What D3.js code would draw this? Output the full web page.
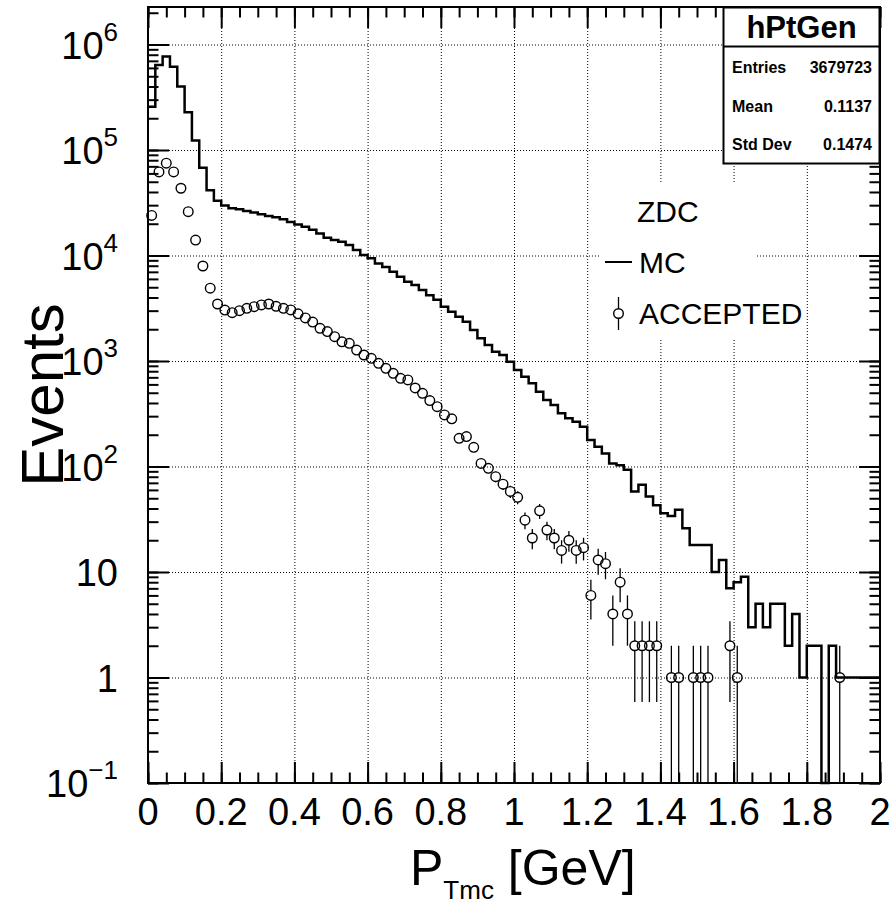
<!DOCTYPE html>
<html>
<head>
<meta charset="utf-8">
<script src="https://cdn.jsdelivr.net/npm/d3@7"></script>
<style>
  body { margin: 0; background: #fff; }
  svg { display: block; }
  text { font-family: "Liberation Sans", Arial, Helvetica, sans-serif; fill: #000; }
</style>
</head>
<body>
<svg id="chart"></svg>
<script>
// histogram: 100 bins of 0.02 GeV from 0 to 2
var binLow = d3.range(100).map(function(i) { return +(i * 0.02).toFixed(2); });

// MC (generated) counts per bin
var mcCounts = [
  257000, 640000, 770000, 615000, 400000, 228000, 123000, 68000, 41500, 33000,
  29700, 28000, 27400, 26400, 25500, 24600, 23700, 23000, 22000, 20800,
  19700, 18700, 17500, 16200, 14700, 14000, 13500, 12600, 11300, 10100,
  9400, 8400, 7800, 7000, 6300, 5650, 5250, 4700, 4200, 3800,
  3270, 2930, 2630, 2360, 1970, 1640, 1420, 1225, 1140, 985,
  822, 710, 615, 512, 427, 383, 319, 286, 266, 238,
  178, 154, 133, 107, 103, 93, 58, 67, 52, 43,
  36, 34, 39, 26, 18, 18, 18, 10, 13, 7,
  8, 9, 3, 5, 3, 5, 5, 2, 4, 1,
  2, 2, 0, 2, 1, 1, 1, 1, 1, 1
];

// accepted counts per bin (0 = empty)
var accCounts = [
  24000, 62000, 75000, 62000, 43400, 26000, 14000, 7950, 4900, 3470,
  3040, 2870, 3000, 3160, 3270, 3400, 3470, 3300, 3160, 3050,
  2800, 2560, 2340, 2040, 1900, 1700, 1520, 1470, 1270, 1140,
  1060, 951, 853, 764, 685, 661, 555, 494, 422, 369,
  308, 283, 185, 192, 152, 107, 96, 80, 68, 58,
  51, 31, 21, 38, 25, 21, 16, 20, 16, 17,
  6, 13, 12, 4, 8, 4, 2, 2, 2, 2,
  0, 1, 1, 0, 1, 1, 1, 0, 0, 2,
  1, 0, 0, 0, 0, 0, 0, 0, 0, 0,
  0, 0, 0, 0, 1, 0, 0, 0, 0, 0
];

var xMajor = [0, 0.2, 0.4, 0.6, 0.8, 1, 1.2, 1.4, 1.6, 1.8, 2];
var xLabels = ["0", "0.2", "0.4", "0.6", "0.8", "1", "1.2", "1.4", "1.6", "1.8", "2"];
var yDecades = [0.1, 1, 10, 100, 1000, 10000, 100000, 1000000];
var yExp = ["\u22121", null, null, "2", "3", "4", "5", "6"];
var yPlain = [null, "1", "10", null, null, null, null, null];

var statsNames = ["Entries", "Mean", "Std Dev"];
var statsValues = ["3679723", "0.1137", "0.1474"];

var W = 894, H = 913;
var margin = { top: 7, right: 14, bottom: 130, left: 148 };
var width = W - margin.left - margin.right,
    height = H - margin.top - margin.bottom;
var yMin = 0.1, yMax = Math.pow(10, -1 + height / 105.5);

var svg = d3.select("#chart").attr("width", W).attr("height", H);
var g = svg.append("g").attr("transform", "translate(" + margin.left + "," + margin.top + ")");

var x = d3.scaleLinear().domain([0, 2]).range([0, width]);
var y = d3.scaleLog().domain([yMin, yMax]).range([height, 0]);
function yc(v) { return y(Math.max(v, yMin)); }

// grid
var grid = g.append("g").attr("class", "grid")
    .attr("stroke", "#000").attr("stroke-width", 1).attr("stroke-dasharray", "1,2");
grid.selectAll(".gx").data(xMajor.slice(1, -1)).enter().append("line")
    .attr("x1", function(d) { return x(d) + 0.5; }).attr("x2", function(d) { return x(d) + 0.5; })
    .attr("y1", 0).attr("y2", height);
grid.selectAll(".gy").data(yDecades.slice(1)).enter().append("line")
    .attr("x1", 0).attr("x2", width)
    .attr("y1", function(d) { return y(d) + 0.5; }).attr("y2", function(d) { return y(d) + 0.5; });

// legend box (white, covers grid)
var leg = svg.append("g");
leg.append("rect").attr("x", 600).attr("y", 183).attr("width", 155).attr("height", 155).attr("fill", "#fff");

// MC histogram as steps
var stepData = binLow.map(function(b, i) { return [b, mcCounts[i]]; });
stepData.push([2, mcCounts[mcCounts.length - 1]]);
var step = d3.line()
    .x(function(d) { return x(d[0]); })
    .y(function(d) { return yc(d[1]); })
    .curve(d3.curveStepAfter);
g.append("path").datum(stepData)
    .attr("d", step)
    .attr("fill", "none").attr("stroke", "#000").attr("stroke-width", 2.5);

// accepted points with error bars
var r = 4.8;
var pts = accCounts.map(function(v, i) { return { x: binLow[i] + 0.01, v: v }; })
    .filter(function(d) { return d.v > 0; });
var pg = g.append("g").attr("stroke", "#000");
pts.forEach(function(d) {
    var cx = x(d.x), cy = y(d.v);
    var e = Math.sqrt(d.v);
    var yHi = y(d.v + e);
    var yLo = (d.v - e) > yMin ? y(d.v - e) : height;
    if (yHi < cy - r) pg.append("line").attr("x1", cx).attr("x2", cx).attr("y1", yHi).attr("y2", cy - r).attr("stroke-width", 1.3);
    if (yLo > cy + r) pg.append("line").attr("x1", cx).attr("x2", cx).attr("y1", cy + r).attr("y2", yLo).attr("stroke-width", 1.3);
});
pg.selectAll("circle").data(pts).enter().append("circle")
    .attr("cx", function(d) { return x(d.x); })
    .attr("cy", function(d) { return y(d.v); })
    .attr("r", r).attr("fill", "none").attr("stroke-width", 1.4);

// axes: ticks pointing inward
var xMinor = d3.range(0, 41).map(function(i) { return i * 0.05; });
var yMinor = y.ticks(100).filter(function(d) { return d >= yMin && d <= yMax; });

function styleAxis(sel) {
    sel.select(".domain").remove();
    sel.selectAll("line").attr("stroke", "#000").attr("stroke-width", 2);
    sel.selectAll("text").remove();
}
g.append("g").attr("transform", "translate(0," + height + ")")
    .call(d3.axisBottom(x).tickValues(xMinor).tickSize(-10.5)).call(styleAxis);
g.append("g").attr("transform", "translate(0," + height + ")")
    .call(d3.axisBottom(x).tickValues(xMajor).tickSize(-21)).call(styleAxis);
g.append("g")
    .call(d3.axisTop(x).tickValues(xMinor).tickSize(-10.5)).call(styleAxis);
g.append("g")
    .call(d3.axisTop(x).tickValues(xMajor).tickSize(-21)).call(styleAxis);
g.append("g")
    .call(d3.axisLeft(y).tickValues(yMinor).tickSize(-10.5)).call(styleAxis);
g.append("g")
    .call(d3.axisLeft(y).tickValues(yDecades).tickSize(-21)).call(styleAxis);
g.append("g").attr("transform", "translate(" + width + ",0)")
    .call(d3.axisRight(y).tickValues(yMinor).tickSize(-10.5)).call(styleAxis);
g.append("g").attr("transform", "translate(" + width + ",0)")
    .call(d3.axisRight(y).tickValues(yDecades).tickSize(-21)).call(styleAxis);

// frame
g.append("rect").attr("x", 0).attr("y", 0).attr("width", width).attr("height", height)
    .attr("fill", "none").attr("stroke", "#000").attr("stroke-width", 2);

// x tick labels
g.selectAll(".xl").data(xMajor).enter().append("text")
    .attr("x", function(d) { return x(d); })
    .attr("y", height + 42)
    .attr("text-anchor", "middle")
    .style("font-size", "38px")
    .text(function(d, i) { return xLabels[i]; });

// y tick labels, right aligned
yDecades.forEach(function(d, i) {
    var ty = y(d);
    var t = g.append("text").attr("x", -30).attr("y", ty + 14)
        .attr("text-anchor", "end").style("font-size", "38px");
    if (yPlain[i]) {
        t.text(yPlain[i]);
    } else {
        t.append("tspan").text("10");
        t.append("tspan").attr("dy", -18).style("font-size", "26px").text(yExp[i]);
    }
});

// axis titles
var xt = svg.append("text").attr("x", 410).attr("y", 885).style("font-size", "50px");
xt.append("tspan").text("P");
xt.append("tspan").attr("dy", 14).style("font-size", "26px").text("Tmc");
xt.append("tspan").attr("dy", -14).text(" [GeV]");

svg.append("text")
    .attr("transform", "translate(63,395) rotate(-90)")
    .attr("text-anchor", "middle")
    .style("font-size", "60px")
    .text("Events");

// legend contents
leg.append("text").attr("x", 637).attr("y", 222).style("font-size", "30px").text("ZDC");
leg.append("line").attr("x1", 605).attr("x2", 632).attr("y1", 262).attr("y2", 262)
    .attr("stroke", "#000").attr("stroke-width", 2);
leg.append("text").attr("x", 639).attr("y", 273).style("font-size", "30px").text("MC");
leg.append("line").attr("x1", 618.5).attr("x2", 618.5).attr("y1", 297).attr("y2", 308.7)
    .attr("stroke", "#000").attr("stroke-width", 1.3);
leg.append("line").attr("x1", 618.5).attr("x2", 618.5).attr("y1", 318.3).attr("y2", 330)
    .attr("stroke", "#000").attr("stroke-width", 1.3);
leg.append("circle").attr("cx", 618.5).attr("cy", 313.5).attr("r", r)
    .attr("fill", "none").attr("stroke", "#000").attr("stroke-width", 1.4);
leg.append("text").attr("x", 639).attr("y", 324).style("font-size", "30px").text("ACCEPTED");

// stats box
var st = svg.append("g");
st.append("rect").attr("x", 723.5).attr("y", 7.5).attr("width", 156).attr("height", 156)
    .attr("fill", "#fff").attr("stroke", "#000").attr("stroke-width", 2);
st.append("line").attr("x1", 723.5).attr("x2", 879.5).attr("y1", 46.5).attr("y2", 46.5)
    .attr("stroke", "#000").attr("stroke-width", 2);
st.append("text").attr("x", 801.5).attr("y", 38).attr("text-anchor", "middle")
    .style("font-size", "31px").style("font-weight", "bold").text("hPtGen");
statsNames.forEach(function(n, i) {
    var by = 73 + i * 38.5;
    st.append("text").attr("x", 732).attr("y", by).style("font-size", "16px")
        .style("font-weight", "bold").text(n);
    st.append("text").attr("x", 872).attr("y", by).attr("text-anchor", "end")
        .style("font-size", "16px").style("font-weight", "bold").text(statsValues[i]);
});
</script>
</body>
</html>
